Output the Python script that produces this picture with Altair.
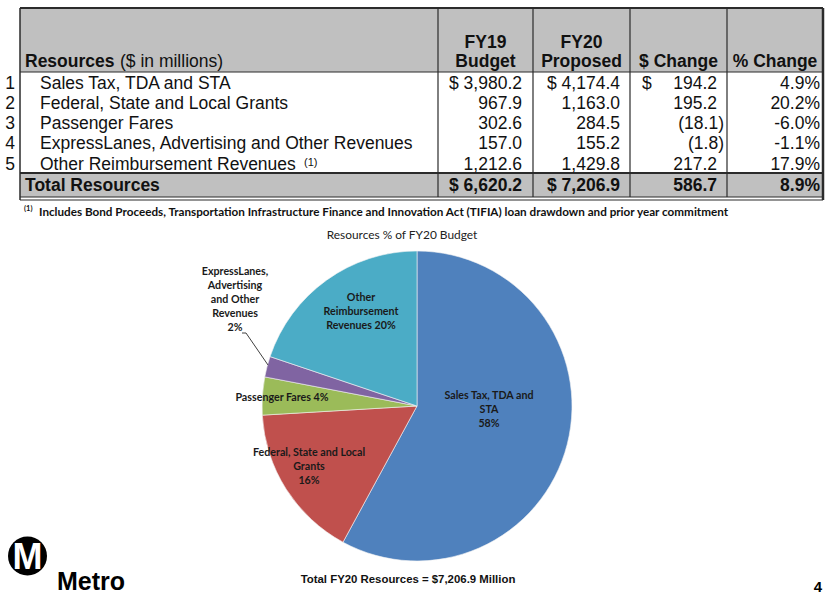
import altair as alt
import pandas as pd

# ---------------------------------------------------------------- data
row_nums = ["1", "2", "3", "4", "5"]
categories = [
    "Sales Tax, TDA and STA",
    "Federal, State and Local Grants",
    "Passenger Fares",
    "ExpressLanes, Advertising and Other Revenues",
    "Other Reimbursement Revenues",
]
fy19_budget = [3980.2, 967.9, 302.6, 157.0, 1212.6]
fy20_proposed = [4174.4, 1163.0, 284.5, 155.2, 1429.8]
dollar_change = [194.2, 195.2, -18.1, -1.8, 217.2]
pct_change = [4.9, 20.2, -6.0, -1.1, 17.9]
total_fy19 = 6620.2
total_fy20 = 7206.9
total_change = 586.7
total_pct = 8.9

# wrapped slice names used inside the pie
pie_names = [
    "Sales Tax, TDA and\nSTA",
    "Federal, State and Local\nGrants",
    "Passenger Fares",
    "ExpressLanes,\nAdvertising\nand Other\nRevenues",
    "Other\nReimbursement\nRevenues",
]
slice_colors = ["#4F81BD", "#C0504D", "#9BBB59", "#8064A2", "#4BACC6"]

# ---------------------------------------------------------------- layout
W, H = 831, 602
XS = alt.Scale(domain=[0, W], range=[0, W], nice=False, zero=False)
YS = alt.Scale(domain=[0, H], range=[0, H], nice=False, zero=False)

TBL_L, TBL_R, TBL_T = 20, 823, 8
HDR_B, TOT_T, TOT_B = 72, 173, 197
COL_LINES = [438, 533, 630, 727]
ROW_Y0, ROW_STEP, TOT_Y = 83.5, 20.3, 186
HDR_Y1, HDR_Y2 = 43, 62
LABEL_X, NUM_X = 40, 10
FY19_R, FY20_R, CHG_R, CHG_NEG_R, PCT_R = 522, 620, 717, 724, 820
CHG_DOLLAR_X = 642
GRID = "#2b2b2b"
GREY = "#C0C0C0"
TFONT = "Liberation Sans"
TSIZE = 17.5
PFONT = "Lato"

PIE_CX, PIE_CY, PIE_R = 417, 406, 155
# first-line anchor of each slice label
pie_label_x = [489, 309, 282, 235, 361]
pie_label_y = [396, 453, 398, 272, 298]


def fx(f="x"):
    return alt.X(f"{f}:Q", scale=XS, axis=None)


def fy(f="y"):
    return alt.Y(f"{f}:Q", scale=YS, axis=None)


def text_layer(rows, align="left", size=TSIZE, weight="normal", font=TFONT,
               color="#111111", baseline="middle", line_height=None):
    kw = dict(align=align, baseline=baseline, fontSize=size,
              fontWeight=weight, font=font, color=color)
    if line_height is not None:
        kw.update(lineBreak="\n", lineHeight=line_height)
    return alt.Chart(pd.DataFrame(rows)).mark_text(**kw).encode(
        x=fx(), y=fy(), text="t:N")


def money(v):
    return f"{v:,.1f}"


def acct(v):
    return f"({abs(v):,.1f})" if v < 0 else f"{v:,.1f}"


# ---------------------------------------------------------------- table
shade = alt.Chart(pd.DataFrame([
    {"x": TBL_L, "x2": TBL_R, "y": TBL_T, "y2": HDR_B},
    {"x": TBL_L, "x2": TBL_R, "y": TOT_T, "y2": TOT_B},
])).mark_rect(color=GREY).encode(x=fx(), x2="x2:Q", y=fy(), y2="y2:Q")

hlines = alt.Chart(pd.DataFrame([
    {"x": TBL_L, "x2": TBL_R, "y": TBL_T, "w": 2.0},
    {"x": TBL_L, "x2": TBL_R, "y": HDR_B, "w": 1.2},
    {"x": TBL_L, "x2": TBL_R, "y": TOT_T, "w": 2.0},
    {"x": TBL_L, "x2": TBL_R, "y": TOT_B, "w": 1.2},
    {"x": TBL_L, "x2": TBL_R, "y": TOT_B + 3, "w": 1.2},
])).mark_rule(color=GRID).encode(
    x=fx(), x2="x2:Q", y=fy(),
    strokeWidth=alt.StrokeWidth("w:Q", scale=None, legend=None))

vlines = alt.Chart(pd.DataFrame(
    [{"x": TBL_L, "y": TBL_T, "y2": TOT_B + 3, "w": 1.5},
     {"x": TBL_R, "y": TBL_T, "y2": TOT_B + 3, "w": 2.5}]
    + [{"x": c, "y": TBL_T, "y2": TOT_B, "w": 1.2} for c in COL_LINES]
)).mark_rule(color=GRID).encode(
    x=fx(), y=fy(), y2="y2:Q",
    strokeWidth=alt.StrokeWidth("w:Q", scale=None, legend=None))

row_y = [ROW_Y0 + i * ROW_STEP for i in range(len(categories))]

hdr_left = text_layer([{"x": 25, "y": HDR_Y2, "t": "Resources"}],
                      weight="bold")
hdr_left2 = text_layer([{"x": 120, "y": HDR_Y2, "t": "($ in millions)"}])
hdr_center = text_layer([
    {"x": (COL_LINES[0] + COL_LINES[1]) / 2, "y": HDR_Y1, "t": "FY19"},
    {"x": (COL_LINES[0] + COL_LINES[1]) / 2, "y": HDR_Y2, "t": "Budget"},
    {"x": (COL_LINES[1] + COL_LINES[2]) / 2, "y": HDR_Y1, "t": "FY20"},
    {"x": (COL_LINES[1] + COL_LINES[2]) / 2, "y": HDR_Y2, "t": "Proposed"},
    {"x": (COL_LINES[2] + COL_LINES[3]) / 2, "y": HDR_Y2, "t": "$ Change"},
    {"x": (COL_LINES[3] + TBL_R) / 2, "y": HDR_Y2, "t": "% Change"},
], align="center", weight="bold")

nums = text_layer([{"x": NUM_X, "y": y, "t": n} for n, y in zip(row_nums, row_y)],
                  align="center")
labels = text_layer([{"x": LABEL_X, "y": y, "t": c} for c, y in zip(categories, row_y)])
footmark = text_layer([{"x": 304, "y": row_y[4] - 2, "t": "(1)"}], size=11)

right_rows = []
for i, y in enumerate(row_y):
    right_rows.append({"x": FY19_R, "y": y,
                       "t": ("$ " if i == 0 else "") + money(fy19_budget[i])})
    right_rows.append({"x": FY20_R, "y": y,
                       "t": ("$ " if i == 0 else "") + money(fy20_proposed[i])})
    right_rows.append({"x": CHG_NEG_R if dollar_change[i] < 0 else CHG_R, "y": y,
                       "t": acct(dollar_change[i])})
    right_rows.append({"x": PCT_R, "y": y, "t": f"{pct_change[i]:.1f}%"})
values = text_layer(right_rows, align="right")
chg_dollar = text_layer([{"x": CHG_DOLLAR_X, "y": row_y[0], "t": "$"}])

tot_left = text_layer([{"x": 25, "y": TOT_Y, "t": "Total Resources"}], weight="bold")
tot_vals = text_layer([
    {"x": FY19_R, "y": TOT_Y, "t": "$ " + money(total_fy19)},
    {"x": FY20_R, "y": TOT_Y, "t": "$ " + money(total_fy20)},
    {"x": CHG_R, "y": TOT_Y, "t": money(total_change)},
    {"x": PCT_R, "y": TOT_Y, "t": f"{total_pct:.1f}%"},
], align="right", weight="bold")

foot_sup = text_layer([{"x": 24, "y": 209, "t": "(1)"}], size=7.5, weight="bold",
                      font=PFONT)
foot = text_layer([{"x": 39, "y": 212,
                    "t": "Includes Bond Proceeds, Transportation Infrastructure Finance "
                         "and Innovation Act (TIFIA) loan drawdown and prior year commitment"}],
                  size=11.7, weight="bold", font=PFONT)

# ---------------------------------------------------------------- pie
pie_total = sum(fy20_proposed)
pie_df = pd.DataFrame({
    "category": categories,
    "value": fy20_proposed,
    "idx": list(range(len(categories))),
})
pie = alt.Chart(pie_df).mark_arc(radius=PIE_R, stroke="#f4f4f4", strokeWidth=0.6).encode(
    theta=alt.Theta("value:Q", stack=True),
    order=alt.Order("idx:Q"),
    color=alt.Color("category:N", legend=None,
                    scale=alt.Scale(domain=categories, range=slice_colors)),
    x=alt.value(PIE_CX), y=alt.value(PIE_CY),
)

pie_texts = []
for i, name in enumerate(pie_names):
    pct = round(fy20_proposed[i] / pie_total * 100)
    if i == 2 or i == 4:
        t = f"{name} {pct}%"
    else:
        t = f"{name}\n{pct}%"
    pie_texts.append({"x": pie_label_x[i], "y": pie_label_y[i], "t": t})
pie_labels = text_layer(pie_texts, align="center", size=10.7, weight="bold",
                        font=PFONT, color="#1a1a1a", line_height=14)

leader = alt.Chart(pd.DataFrame([
    {"x": 242, "y": 333, "x2": 246, "y2": 333},
    {"x": 246, "y": 333, "x2": 268, "y2": 365},
])).mark_rule(color="#404040", strokeWidth=1).encode(
    x=fx(), y=fy(), x2="x2:Q", y2="y2:Q")

pie_title = text_layer([{"x": 402, "y": 235, "t": "Resources % of FY20 Budget"}],
                       align="center", size=11.9, font=PFONT, color="#222222")
pie_total_txt = text_layer(
    [{"x": 408, "y": 580, "t": f"Total FY20 Resources = ${total_fy20:,.1f} Million"}],
    align="center", size=11.4, weight="bold", color="#111111")

# ---------------------------------------------------------------- logo and page number
logo_circle = alt.Chart(pd.DataFrame([{"x": 27.5, "y": 556}])).mark_circle(
    size=1520, color="#000000", opacity=1).encode(x=fx(), y=fy())
logo_m = text_layer([{"x": 27.5, "y": 558, "t": "M"}], align="center", size=36,
                    weight="bold", color="#ffffff")
logo_word = text_layer([{"x": 57, "y": 590, "t": "Metro"}], size=25, weight="bold",
                       color="#000000", baseline="alphabetic")
page_no = text_layer([{"x": 818, "y": 587, "t": "4"}], align="center", size=15,
                     weight="bold", color="#000000")

chart = alt.layer(
    shade, hlines, vlines,
    hdr_left, hdr_left2, hdr_center, nums, labels, footmark, values, chg_dollar,
    tot_left, tot_vals, foot_sup, foot,
    pie, leader, pie_labels, pie_title, pie_total_txt,
    logo_circle, logo_m, logo_word, page_no,
).properties(
    width=W, height=H, padding=0,
    autosize=alt.AutoSizeParams(type="none"),
    background="#ffffff",
).configure_view(stroke=None)

chart.save("out.html", embed_options={"renderer": "svg", "actions": False})
